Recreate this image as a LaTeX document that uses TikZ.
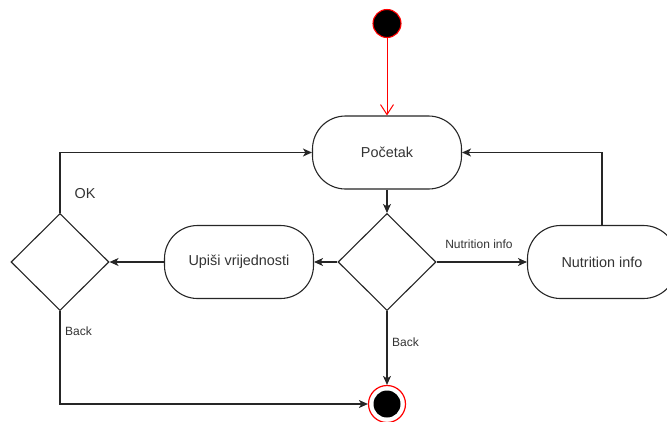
\documentclass[tikz,border=0pt]{standalone}
\usepackage{fontspec}
\setmainfont{Liberation Sans}
\usetikzlibrary{shapes.geometric,arrows.meta}
\definecolor{txt}{HTML}{333333}
\definecolor{startred}{HTML}{FF0000}
\begin{document}
\begin{tikzpicture}[x=1pt,y=-1pt,line width=1.1pt,
  state/.style={draw=black!85, fill=white, rounded corners=33pt, minimum width=149pt,
    minimum height=73pt, inner sep=0pt, text=txt, font=\fontsize{14.4}{17}\selectfont},
  choice/.style={draw=black!85, fill=white, diamond, minimum width=98pt, minimum height=97pt,
    inner sep=0pt, shape aspect=1},
  flow/.style={draw=black!85, -{Stealth[length=9pt,width=8pt,inset=2.5pt]}},
  elabel/.style={text=txt, font=\fontsize{12}{14}\selectfont, inner sep=0pt},
  biglabel/.style={text=txt, font=\fontsize{14.4}{17}\selectfont, inner sep=0pt}]
\useasboundingbox (0,0) rectangle (667,421);

% start and end states
\node (start) [circle, draw=startred, fill=black, minimum size=28pt, inner sep=0pt] at (387,23.5) {};
\node (end) [circle, draw=startred, line width=1.2pt, fill=white, minimum size=37pt, inner sep=0pt] at (387,404) {};
\node (endcore) [circle, fill=black, minimum size=27pt, inner sep=0pt] at (end) {};

% activities
\node (pocetak) [state] at (387,152.5) {Početak};
\node (upisi) [state] at (239,262) {Upiši vrijednosti};
\node (nutri) [state] at (602,262) {Nutrition info};

% decisions
\node (d1) [choice] at (387,262) {};
\node (d2) [choice] at (60,262) {};

% corner points of the routed connectors
\coordinate (okturn) at (60,152.5);
\coordinate (backturn) at (60,404);
\coordinate (nturn) at (602,152.5);

% connectors
\draw[startred, line width=1pt, -{Straight Barb[length=10pt,width=13pt]}] (start) -- (pocetak);
\draw[flow] (pocetak) -- (d1);
\draw[flow] (d1) -- (upisi);
\draw[flow] (d1) -- (nutri);
\draw[flow] (upisi) -- (d2);
\draw[flow] (d2.north) -- (okturn) -- (pocetak.west);
\draw[flow] (d2.south) -- (backturn) -- (end.west);
\draw[flow] (d1.south) -- (end.north);
\draw[flow] (nutri.north) -- (nturn) -- (pocetak.east);

% connector labels
\node (lnutri) [elabel] at (479,244.5) {Nutrition info};
\node (lback1) [elabel] at (405.5,342.5) {Back};
\node (lback2) [elabel] at (78.5,331) {Back};
\node (lok) [biglabel] at (85,194) {OK};
\end{tikzpicture}
\end{document}
